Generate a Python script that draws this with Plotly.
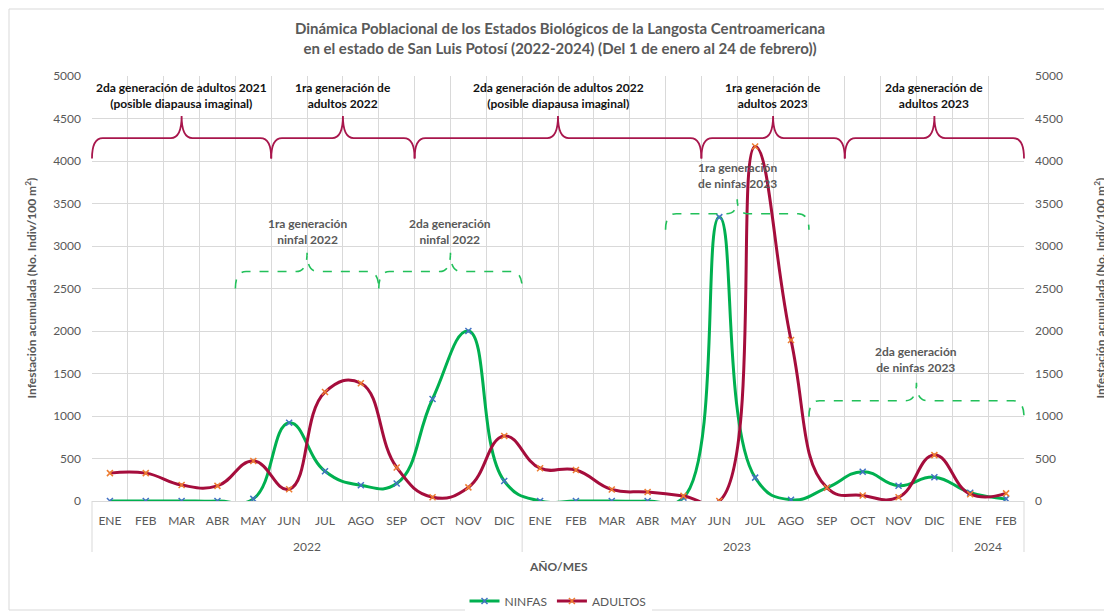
import plotly.graph_objects as go

# ---------------- data ----------------
years = ["2022"] * 12 + ["2023"] * 12 + ["2024"] * 2
months = ["ENE", "FEB", "MAR", "ABR", "MAY", "JUN", "JUL", "AGO", "SEP", "OCT", "NOV", "DIC",
          "ENE", "FEB", "MAR", "ABR", "MAY", "JUN", "JUL", "AGO", "SEP", "OCT", "NOV", "DIC",
          "ENE", "FEB"]
ninfas = [0, 0, 0, 0, 25, 920, 350, 185, 205, 1200, 2000, 235,
          0, 0, 0, 0, 40, 3340, 275, 15, 155, 345, 180, 280,
          98, 25]
adultos = [328, 328, 188, 178, 470, 138, 1282, 1385, 395, 45, 160, 765,
           386, 365, 135, 105, 60, 0, 4170, 1895, 157, 65, 45, 540,
           80, 90]
y_ticks = [0, 500, 1000, 1500, 2000, 2500, 3000, 3500, 4000, 4500, 5000]

# brace annotations: (start boundary idx, end boundary idx, label)
adult_braces = [(-0.5, 4.5, "2da generación de adultos 2021<br>(posible diapausa imaginal)"),
                (4.5, 8.5, "1ra generación de<br>adultos 2022"),
                (8.5, 16.5, "2da generación de adultos 2022<br>(posible diapausa imaginal)"),
                (16.5, 20.5, "1ra generación de<br>adultos 2023"),
                (20.5, 25.5, "2da generación de<br>adultos 2023")]
adult_brace_levels = (4030, 4270, 4530, 4776)  # end, arm, tip, label centre
nymph_braces = [(3.5, 7.5, "1ra generación<br>ninfal 2022", (2500, 2700, 2920, 3176)),
                (7.5, 11.5, "2da generación<br>ninfal 2022", (2500, 2700, 2920, 3176)),
                (15.5, 19.5, "1ra generación<br>de ninfas 2023", (3190, 3380, 3550, 3835)),
                (19.5, 25.5, "2da generación<br>de ninfas 2023", (990, 1180, 1390, 1670))]

N = len(months)
categories = [f"{m} {y}" for m, y in zip(months, years)]
FONT = "Lato, Carlito, Calibri, sans-serif"
GRAY = "#595959"
GRID = "#d9d9d9"
PLOT_H = 425.0  # plot-area height in px (for paper offsets)


def px(i):
    """category index -> paper x (x range is [-0.5, N-0.5])"""
    return (i + 0.5) / N


def brace_path(i0, i1, ye, ya, yt):
    x0, x1 = px(i0), px(i1)
    xm = (x0 + x1) / 2
    r = 0.3 / N
    return (f"M {x0},{ye} Q {x0},{ya} {x0 + r},{ya} L {xm - r},{ya} "
            f"Q {xm},{ya} {xm},{yt} Q {xm},{ya} {xm + r},{ya} L {x1 - r},{ya} "
            f"Q {x1},{ya} {x1},{ye}")


fig = go.Figure()
fig.add_trace(go.Scatter(
    x=categories, y=ninfas, name="NINFAS", mode="lines+markers",
    line=dict(color="#00B050", width=3, shape="spline", smoothing=1.3),
    marker=dict(symbol="x-thin", size=6, color="#4472C4", line=dict(color="#4472C4", width=1.5)),
))
fig.add_trace(go.Scatter(
    x=categories, y=adultos, name="ADULTOS", mode="lines+markers",
    line=dict(color="#A50D3C", width=3, shape="spline", smoothing=1.3),
    marker=dict(symbol="x-thin", size=6, color="#ED7D31", line=dict(color="#ED7D31", width=1.5)),
))
# invisible trace to anchor the secondary axis
fig.add_trace(go.Scatter(
    x=categories, y=adultos, yaxis="y2", mode="lines", opacity=0,
    showlegend=False, hoverinfo="skip",
))

shapes = []
annotations = []
ye, ya, yt, yl = adult_brace_levels
for i0, i1, label in adult_braces:
    shapes.append(dict(type="path", xref="paper", yref="y", path=brace_path(i0, i1, ye, ya, yt),
                       line=dict(color="#A8164C", width=1.8)))
    annotations.append(dict(xref="paper", yref="y", x=(px(i0) + px(i1)) / 2, y=yl, text=f"<b>{label}</b>",
                            showarrow=False, font=dict(family=FONT, size=12, color="#111111"),
                            xanchor="center", yanchor="middle"))
for i0, i1, label, (e, a, t, l) in nymph_braces:
    shapes.append(dict(type="path", xref="paper", yref="y", path=brace_path(i0, i1, e, a, t),
                       line=dict(color="#22C05A", width=1.6, dash="dash")))
    annotations.append(dict(xref="paper", yref="y", x=(px(i0) + px(i1)) / 2, y=l, text=f"<b>{label}</b>",
                            showarrow=False, font=dict(family=FONT, size=12, color=GRAY),
                            xanchor="center", yanchor="middle"))

# year group labels and dividers (second level of the category axis)
group_years = []
for i, yv in enumerate(years):
    if not group_years or group_years[-1][0] != yv:
        group_years.append([yv, i, i])
    else:
        group_years[-1][2] = i
bounds = [-0.5] + [g[2] + 0.5 for g in group_years]
for b in bounds:
    shapes.append(dict(type="line", xref="paper", yref="paper", x0=px(b), x1=px(b),
                       y0=0, y1=-51 / PLOT_H, line=dict(color=GRID, width=1)))
for yv, i0, i1 in group_years:
    annotations.append(dict(xref="paper", yref="paper", x=(px(i0 - 0.5) + px(i1 + 0.5)) / 2,
                            y=-45 / PLOT_H, text=yv, showarrow=False,
                            font=dict(family=FONT, size=12, color=GRAY),
                            xanchor="center", yanchor="middle"))

# axis titles
ytitle = "<b>Infestación acumulada (No. Indiv/100 m<sup>2</sup>)</b>"
annotations.append(dict(xref="paper", yref="paper", x=-62 / 932, y=0.5, text=ytitle, textangle=-90,
                        showarrow=False, font=dict(family=FONT, size=12, color=GRAY),
                        xanchor="center", yanchor="middle"))
annotations.append(dict(xref="paper", yref="paper", x=1.0805, y=0.5, text=ytitle, textangle=-90,
                        showarrow=False, font=dict(family=FONT, size=12, color=GRAY),
                        xanchor="center", yanchor="middle"))
annotations.append(dict(xref="paper", yref="paper", x=0.5, y=-65 / PLOT_H, text="<b>AÑO/MES</b>",
                        showarrow=False, font=dict(family=FONT, size=12, color=GRAY),
                        xanchor="center", yanchor="middle"))

# outer frame
shapes.append(dict(type="rect", xref="paper", yref="paper", x0=-83 / 932, x1=1016 / 932,
                   y0=-109 / PLOT_H, y1=492 / PLOT_H, line=dict(color=GRID, width=1), layer="below"))

fig.update_layout(
    width=1104, height=605,
    margin=dict(l=84, r=88, t=68, b=112),
    paper_bgcolor="white", plot_bgcolor="white",
    font=dict(family=FONT, size=12, color=GRAY),
    title=dict(text="<b>Dinámica Poblacional de los Estados Biológicos de la Langosta Centroamericana<br>"
                    "en el estado de San Luis Potosí (2022-2024) (Del 1 de enero al 24 de febrero))</b>",
               x=0.5, xanchor="center", y=1 - 26 / 605, yanchor="middle",
               font=dict(family=FONT, size=15, color=GRAY)),
    xaxis=dict(type="category", range=[-0.5, N - 0.5], automargin=False, tickangle=0,
               tickmode="array", tickvals=categories, ticktext=months, tickson="boundaries",
               showgrid=True, gridcolor=GRID, gridwidth=1,
               showline=True, linecolor=GRID, linewidth=1, ticklabelstandoff=9,
               tickfont=dict(family=FONT, size=12, color=GRAY), ticks=""),
    yaxis=dict(range=[0, 5000], tickvals=y_ticks, showgrid=True, gridcolor=GRID, gridwidth=1,
               automargin=False, zeroline=False, showline=False, ticks="", ticklabelstandoff=10,
               tickfont=dict(family=FONT, size=12, color=GRAY)),
    yaxis2=dict(range=[0, 5000], tickvals=y_ticks, overlaying="y", side="right", showgrid=False,
                automargin=False, zeroline=False, showline=False, ticks="", ticklabelstandoff=10,
                tickfont=dict(family=FONT, size=12, color=GRAY)),
    legend=dict(orientation="h", x=0.5, xanchor="center", yref="container", y=12 / 605, yanchor="middle",
                itemwidth=30, font=dict(family=FONT, size=12, color=GRAY)),
    shapes=shapes, annotations=annotations,
)

fig.write_html("out.html")
